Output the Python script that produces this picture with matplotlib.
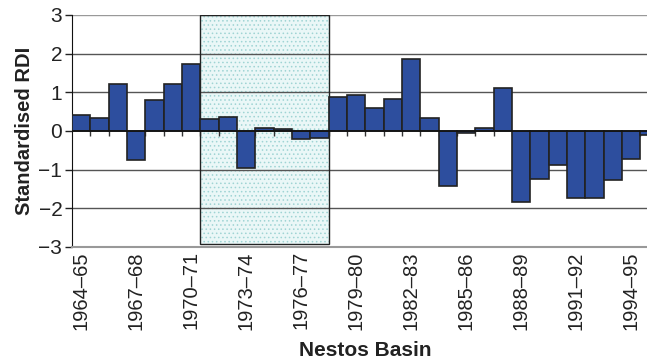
import matplotlib
matplotlib.use("Agg")
import matplotlib.pyplot as plt
from matplotlib.patches import Rectangle

# hydrological years, Nestos Basin
seasons = ["1964–65", "1965–66", "1966–67", "1967–68", "1968–69", "1969–70",
           "1970–71", "1971–72", "1972–73", "1973–74", "1974–75", "1975–76",
           "1976–77", "1977–78", "1978–79", "1979–80", "1980–81", "1981–82",
           "1982–83", "1983–84", "1984–85", "1985–86", "1986–87", "1987–88",
           "1988–89", "1989–90", "1990–91", "1991–92", "1992–93", "1993–94",
           "1994–95", "1995–96"]
rdi = [0.42, 0.34, 1.22, -0.76, 0.81, 1.21, 1.73, 0.30, 0.35, -0.96,
       0.09, 0.06, -0.20, -0.18, 0.89, 0.93, 0.59, 0.83, 1.86, 0.34,
       -1.41, -0.06, 0.09, 1.11, -1.84, -1.24, -0.88, -1.72, -1.72, -1.27,
       -0.72, -0.10]
shown_labels = ["1964–65", "1967–68", "1970–71", "1973–74", "1976–77", "1979–80",
                "1982–83", "1985–86", "1988–89", "1991–92", "1994–95"]
# shaded period
period_start = "1971–72"
period_end = "1977–78"
period_low = -2.93

plt.rcParams['font.family'] = ['Liberation Sans', 'DejaVu Sans']
plt.rcParams['hatch.linewidth'] = 0.6

fig = plt.figure(figsize=(6.47, 3.63), dpi=100)
ax = fig.add_axes([72 / 647, 116 / 363, 586.7 / 647, 232 / 363])

x = list(range(len(seasons)))
ax.bar(x, rdi, width=1.0, color="#2d4e9e", edgecolor="#222222", linewidth=1.2, zorder=3)

# shaded box
i0 = seasons.index(period_start) - 0.5
i1 = seasons.index(period_end) + 0.5
ax.add_patch(Rectangle((i0, period_low), i1 - i0, 3 - period_low, facecolor="#eaf7f7",
                       edgecolor="#9fd4d4", hatch="....", linewidth=0, zorder=0.5))
ax.add_patch(Rectangle((i0, period_low), i1 - i0, 3 - period_low, fill=False,
                       edgecolor="#222222", linewidth=1.0, zorder=2.5))

# horizontal gridlines
for yv in [-2, -1, 1, 2, 3]:
    ax.axhline(yv, color="#555555" if yv != 3 else "#999999", linewidth=1.0, zorder=1)

# zero line with small ticks between bars
ax.axhline(0, color="#111111", linewidth=1.2, zorder=4)
bounds = [i + 0.5 for i in x[:-1]]
ax.vlines(bounds, -0.14, 0, color="#333333", linewidth=1.0, zorder=2)

ax.set_xlim(-0.5, len(seasons) - 0.5)
ax.set_ylim(-3, 3)
ax.set_yticks([-3, -2, -1, 0, 1, 2, 3])
ax.set_yticklabels(["−3", "−2", "−1", "0", "1", "2", "3"])
ax.set_xticks([seasons.index(s) for s in shown_labels])
ax.set_xticklabels(shown_labels, rotation=90)
ax.tick_params(axis="x", length=0, pad=3, labelsize=14.5, colors="#222222")
ax.tick_params(axis="y", length=5, width=1, pad=2, labelsize=15, colors="#222222")

for side in ["top", "right"]:
    ax.spines[side].set_visible(False)
ax.spines["left"].set_color("#111111")
ax.spines["bottom"].set_color("#999999")
ax.spines["bottom"].set_linewidth(1.5)

ax.set_ylabel("Standardised RDI", fontsize=14.5, fontweight="bold", color="#222222", labelpad=3)
ax.set_xlabel("Nestos Basin", fontsize=15, fontweight="bold", color="#222222", labelpad=8)

fig.savefig("out.png", dpi=100)
